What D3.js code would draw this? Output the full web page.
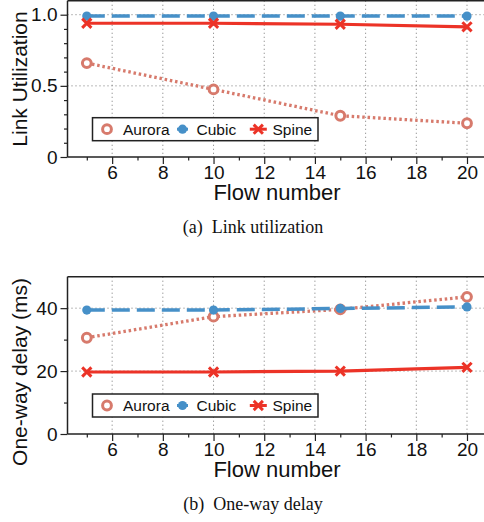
<!DOCTYPE html>
<html>
<head>
<meta charset="utf-8">
<script src="https://cdn.jsdelivr.net/npm/d3@7"></script>
<style>
  body { margin: 0; background: #fff; }
  svg { display: block; }
</style>
</head>
<body>
<div id="chart"></div>
<script>
/* global d3 */

const flows = [5, 10, 15, 20];
const seriesNames = ['Aurora', 'Cubic', 'Spine'];

// panel (a): link utilization
const utilAurora = [0.66, 0.475, 0.29, 0.237];
const utilCubic = [0.99, 0.99, 0.99, 0.99];
const utilSpine = [0.94, 0.94, 0.933, 0.915];

// panel (b): one-way delay (ms)
const delayAurora = [30.6, 37.3, 39.6, 43.6];
const delayCubic = [39.4, 39.4, 39.9, 40.4];
const delaySpine = [19.7, 19.7, 20.0, 21.2];

const xTicks = [6, 8, 10, 12, 14, 16, 18, 20];
const utilTicks = [0, 0.5, 1.0];
const delayTicks = [0, 20, 40];

const colors = { Aurora: '#d77a6c', Cubic: '#4690c8', Spine: '#ec3327' };

const W = 484;
const H = 522;

const svg = d3.select('#chart')
  .append('svg')
  .attr('width', W)
  .attr('height', H)
  .style('font-family', '"Liberation Sans", Arial, sans-serif');

const x = d3.scaleLinear().domain([5, 20]).range([86.8, 467]);
const plotLeft = 67.5;
const plotRight = 492;

function drawPanel(opt) {
  const y = d3.scaleLinear().domain(opt.domain).range([opt.bottom, opt.top]);
  const g = svg.append('g');

  // grid
  g.selectAll('.vgrid')
    .data(xTicks)
    .enter()
    .append('line')
    .attr('x1', (d) => x(d)).attr('x2', (d) => x(d))
    .attr('y1', opt.frameTop).attr('y2', opt.bottom)
    .attr('stroke', '#777')
    .attr('stroke-width', 1)
    .attr('stroke-dasharray', '1,3');
  g.selectAll('.hgrid')
    .data(opt.ticks.filter((d) => d !== 0))
    .enter()
    .append('line')
    .attr('x1', plotLeft).attr('x2', plotRight)
    .attr('y1', (d) => y(d)).attr('y2', (d) => y(d))
    .attr('stroke', '#777')
    .attr('stroke-width', 1)
    .attr('stroke-dasharray', '1,3');

  // lines
  const line = d3.line().x((d, i) => x(flows[i])).y((d) => y(d));
  const styles = {
    Aurora: { dash: '2.5,2.8', width: 3.3 },
    Cubic: { dash: '18,7', width: 3.5 },
    Spine: { dash: null, width: 3.2 },
  };
  seriesNames.forEach((name) => {
    const vals = opt.data[name];
    g.append('path')
      .datum(vals)
      .attr('d', line)
      .attr('fill', 'none')
      .attr('stroke', colors[name])
      .attr('stroke-width', styles[name].width)
      .attr('stroke-dasharray', styles[name].dash);
    const mg = g.append('g');
    vals.forEach((v, i) => drawMarker(mg, name, x(flows[i]), y(v)));
  });

  // frame
  g.append('line')
    .attr('x1', plotLeft).attr('x2', plotRight)
    .attr('y1', opt.frameTop).attr('y2', opt.frameTop)
    .attr('stroke', '#222').attr('stroke-width', 1.5);

  // axes
  const xAxis = d3.axisBottom(x).tickValues(xTicks).tickSize(7).tickPadding(2);
  const xMinor = d3.axisBottom(x).tickValues([5, 7, 9, 11, 13, 15, 17, 19]).tickSize(3.5).tickFormat('');
  const yAxis = d3.axisLeft(y).tickValues(opt.ticks).tickSize(7).tickPadding(3)
    .tickFormat(opt.fmt);
  const yMinor = d3.axisLeft(y).tickValues(opt.minor).tickSize(3.5).tickFormat('');

  const xa = g.append('g').attr('transform', `translate(0,${opt.bottom})`);
  xa.append('g').call(xMinor);
  xa.append('g').call(xAxis);
  xa.selectAll('.domain').remove();
  xa.append('line')
    .attr('x1', plotLeft).attr('x2', plotRight)
    .attr('stroke', '#222').attr('stroke-width', 1.5);

  const ya = g.append('g').attr('transform', `translate(${plotLeft},0)`);
  ya.append('g').call(yMinor);
  ya.append('g').call(yAxis);
  ya.selectAll('.domain').remove();
  ya.append('line')
    .attr('y1', opt.frameTop).attr('y2', opt.bottom)
    .attr('stroke', '#222').attr('stroke-width', 1.5);

  g.selectAll('.tick line').attr('stroke', '#222').attr('stroke-width', 1.2);
  g.selectAll('.tick text')
    .attr('fill', '#111')
    .style('font-size', '19px')
    .style('font-family', '"Liberation Sans", Arial, sans-serif');

  // axis titles
  g.append('text')
    .attr('x', 277)
    .attr('y', opt.bottom + 43)
    .attr('text-anchor', 'middle')
    .style('font-size', '22px')
    .attr('fill', '#111')
    .text('Flow number');
  g.append('text')
    .attr('transform', `translate(27,${opt.ylabelY}) rotate(-90)`)
    .attr('text-anchor', 'middle')
    .style('font-size', '21px')
    .attr('fill', '#111')
    .text(opt.ylabel);

  // legend
  const lg = g.append('g').attr('transform', `translate(92.5,${opt.legendTop})`);
  lg.append('rect')
    .attr('width', 225.5)
    .attr('height', 23)
    .attr('fill', '#fff')
    .attr('stroke', '#222')
    .attr('stroke-width', 1.5);
  const legendPos = [
    { name: 'Aurora', mx: 14.5, tx: 30.5, stub: 0 },
    { name: 'Cubic', mx: 90, tx: 104, stub: 5.5 },
    { name: 'Spine', mx: 165.8, tx: 180, stub: 8.5 },
  ];
  legendPos.forEach((p) => {
    if (p.stub) {
      lg.append('line')
        .attr('x1', p.mx - p.stub).attr('x2', p.mx + p.stub)
        .attr('y1', 11.5).attr('y2', 11.5)
        .attr('stroke', colors[p.name])
        .attr('stroke-width', 3);
    }
    drawMarker(lg, p.name, p.mx, 11.5);
    lg.append('text')
      .attr('x', p.tx)
      .attr('y', 17)
      .style('font-size', '15.5px')
      .attr('fill', '#111')
      .text(p.name);
  });

  // caption
  svg.append('text')
    .attr('x', 253)
    .attr('y', opt.captionY)
    .attr('text-anchor', 'middle')
    .style('font-family', '"Liberation Serif", "DejaVu Serif", serif')
    .style('font-size', '18px')
    .style('white-space', 'pre')
    .attr('fill', '#111')
    .text(opt.caption);
}

function drawMarker(sel, name, cx, cy) {
  const c = colors[name];
  if (name === 'Aurora') {
    sel.append('circle')
      .attr('cx', cx).attr('cy', cy).attr('r', 4.4)
      .attr('fill', '#fff')
      .attr('stroke', c)
      .attr('stroke-width', 3);
  } else if (name === 'Cubic') {
    sel.append('circle')
      .attr('cx', cx).attr('cy', cy).attr('r', 4.6)
      .attr('fill', c);
  } else {
    const s = 4.6;
    sel.append('path')
      .attr('d', `M${cx - s},${cy - s}L${cx + s},${cy + s}M${cx - s},${cy + s}L${cx + s},${cy - s}`)
      .attr('stroke', c)
      .attr('stroke-width', 3)
      .attr('fill', 'none');
  }
}

drawPanel({
  domain: [0, 1],
  top: 14.7,
  bottom: 157,
  frameTop: 0.75,
  ticks: utilTicks,
  minor: [0.1, 0.2, 0.3, 0.4, 0.6, 0.7, 0.8, 0.9],
  fmt: (d) => (d === 0 ? '0' : d3.format('.1f')(d)),
  data: { Aurora: utilAurora, Cubic: utilCubic, Spine: utilSpine },
  ylabel: 'Link Utilization',
  ylabelY: 79,
  legendTop: 117.7,
  caption: '(a)  Link utilization',
  captionY: 233,
});

drawPanel({
  domain: [0, 50],
  top: 276.7,
  bottom: 434,
  frameTop: 276.7,
  ticks: delayTicks,
  minor: [10, 30],
  fmt: (d) => String(d),
  data: { Aurora: delayAurora, Cubic: delayCubic, Spine: delaySpine },
  ylabel: 'One-way delay (ms)',
  ylabelY: 372,
  legendTop: 394,
  caption: '(b)  One-way delay',
  captionY: 510,
});
</script>
</body>
</html>
